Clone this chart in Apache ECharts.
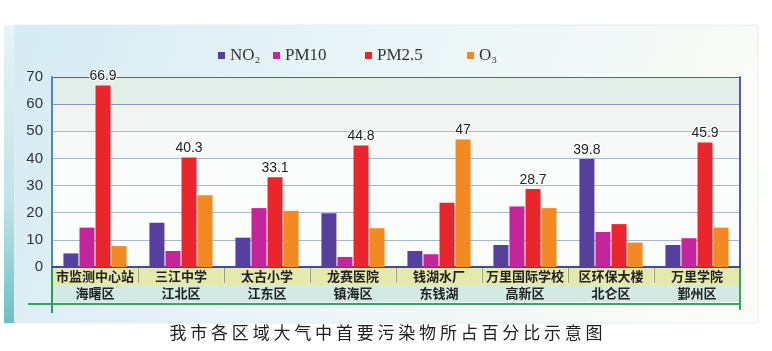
<!DOCTYPE html>
<html>
<head>
<meta charset="utf-8">
<script src="https://cdn.jsdelivr.net/npm/echarts@6/dist/echarts.min.js"></script>
<style>
  html, body { margin: 0; padding: 0; background: #fff; }
  #main { width: 772px; height: 351px; }
</style>
</head>
<body>
<div id="main"></div>
<script>
// sites (first line) and districts (second line)
var sites = ['市监测中心站', '三江中学', '太古小学', '龙赛医院', '钱湖水厂', '万里国际学校', '区环保大楼', '万里学院'];
var districts = ['海曙区', '江北区', '江东区', '镇海区', '东钱湖', '高新区', '北仑区', '鄞州区'];

var no2  = [5.0, 16.3, 10.8, 19.8, 5.9, 8.1, 39.8, 8.1];
var pm10 = [14.5, 5.9, 21.7, 3.7, 4.7, 22.3, 12.9, 10.6];
var pm25 = [66.9, 40.3, 33.1, 44.8, 23.7, 28.7, 15.8, 45.9];
var o3   = [7.7, 26.4, 20.7, 14.3, 47, 21.7, 9.0, 14.5];

var seriesNames = ['NO₂', 'PM10', 'PM2.5', 'O₃'];
var seriesColors = ['#573f9e', '#c4259b', '#e8262c', '#f18a22'];

var title = '我市各区域大气中首要污染物所占百分比示意图';

var allData = [no2, pm10, pm25, o3];

// only the biggest bar of each site gets its value printed
function withLabels(values) {
    return values.map(function (v, i) {
        var top = Math.max(no2[i], pm10[i], pm25[i], o3[i]);
        return { value: v, label: { show: v === top } };
    });
}

// left edge of each legend item (uneven spacing in the picture)
var legendLeft = [213, 268, 360, 462];

var myChart = echarts.init(document.getElementById('main'));

myChart.setOption({
    backgroundColor: '#ffffff',
    animation: false,
    title: {
        text: title.split('').join(' '),
        left: 'center',
        top: 319,
        textStyle: {
            fontFamily: 'Noto Sans CJK SC',
            fontSize: 17,
            fontWeight: 'normal',
            color: '#1e1e1e'
        }
    },
    graphic: [
        {
            type: 'rect', z: -10, silent: true,
            shape: { x: 14, y: 25, width: 744, height: 298 },
            style: {
                fill: new echarts.graphic.LinearGradient(0, 0, 1, 1, [
                    { offset: 0, color: '#d6ebf3' },
                    { offset: 0.45, color: '#eaf5f8' },
                    { offset: 1, color: '#fdfdf6' }
                ]),
                stroke: '#e4eef0', lineWidth: 1
            }
        },
        {
            type: 'rect', z: -9, silent: true,
            shape: { x: 4, y: 25, width: 10, height: 298 },
            style: {
                fill: new echarts.graphic.LinearGradient(0, 0, 0, 1, [
                    { offset: 0, color: '#e8f4f8' },
                    { offset: 0.6, color: '#bfe3e8' },
                    { offset: 1, color: '#6cbfc6' }
                ])
            }
        },
        {
            type: 'line', z: 10, silent: true,
            shape: { x1: 28, y1: 304, x2: 740, y2: 304 },
            style: { stroke: '#3aa45e', lineWidth: 2 }
        },
        {
            type: 'line', z: 10, silent: true,
            shape: { x1: 52, y1: 268, x2: 52, y2: 313 },
            style: { stroke: '#2f9a55', lineWidth: 2 }
        },
        {
            type: 'line', z: 10, silent: true,
            shape: { x1: 740, y1: 268, x2: 740, y2: 310 },
            style: { stroke: '#3aa45e', lineWidth: 2 }
        }
    ],
    legend: seriesNames.map(function (name, i) {
        return {
            data: [name],
            left: legendLeft[i],
            top: 42,
            icon: 'rect',
            itemWidth: 7,
            itemHeight: 7,
            textStyle: {
                fontFamily: 'Liberation Serif',
                fontSize: 17,
                color: '#333'
            }
        };
    }),
    grid: {
        left: 52,
        right: 32,
        top: 77,
        bottom: 84
    },
    xAxis: {
        type: 'category',
        data: sites,
        axisLine: { lineStyle: { color: '#3b4c9c', width: 2 } },
        axisTick: { show: true, length: 16, lineStyle: { color: '#555', width: 1 } },
        axisLabel: {
            interval: 0,
            margin: 1,
            formatter: function (value, idx) {
                return '{a|' + value + '}\n{b|' + districts[idx] + '}';
            },
            rich: {
                a: {
                    fontFamily: 'Noto Sans CJK SC', fontSize: 13, fontWeight: 'bold', color: '#222',
                    backgroundColor: '#e5e9ab', width: 85, height: 17, align: 'center', lineHeight: 17
                },
                b: {
                    fontFamily: 'Noto Sans CJK SC', fontSize: 13, fontWeight: 'bold', color: '#222',
                    backgroundColor: '#d3e9e6', width: 86, height: 17, align: 'center', lineHeight: 17
                }
            }
        }
    },
    yAxis: [
        {
            type: 'value',
            min: 0,
            max: 70,
            interval: 10,
            axisLine: { show: true, lineStyle: { color: '#4a86c8', width: 2 } },
            axisTick: { show: false },
            axisLabel: {
                margin: 9,
                fontFamily: 'Liberation Sans',
                fontSize: 15,
                color: '#333'
            },
            splitLine: {
                lineStyle: {
                    color: ['#a9b8d2', '#a9b8d2', '#a9b8d2', '#a9b8d2', '#a9b8d2', '#a9b8d2', '#8797bf', '#4f5fa8'],
                    width: 1
                }
            },
            splitArea: {
                show: true,
                areaStyle: {
                    color: ['#fbfcfc', '#fbfcfc', '#fbfcfc', '#fafcfb', '#f6f9f8', '#f1f6f4', '#e2eee8']
                }
            }
        },
        {
            type: 'value',
            position: 'right',
            min: 0,
            max: 70,
            interval: 10,
            axisLine: { show: true, lineStyle: { color: '#5558b0', width: 2 } },
            axisTick: { show: false },
            axisLabel: { show: false },
            splitLine: { show: false }
        }
    ],
    series: allData.map(function (vals, si) {
        return {
            name: seriesNames[si],
            type: 'bar',
            barWidth: 15,
            barGap: '7%',
            itemStyle: { color: seriesColors[si] },
            label: {
                position: 'top',
                distance: 2,
                fontFamily: 'Liberation Sans',
                fontSize: 14,
                color: '#222',
                textBorderColor: '#ffffff',
                textBorderWidth: 2
            },
            data: withLabels(vals)
        };
    })
});
</script>
</body>
</html>
